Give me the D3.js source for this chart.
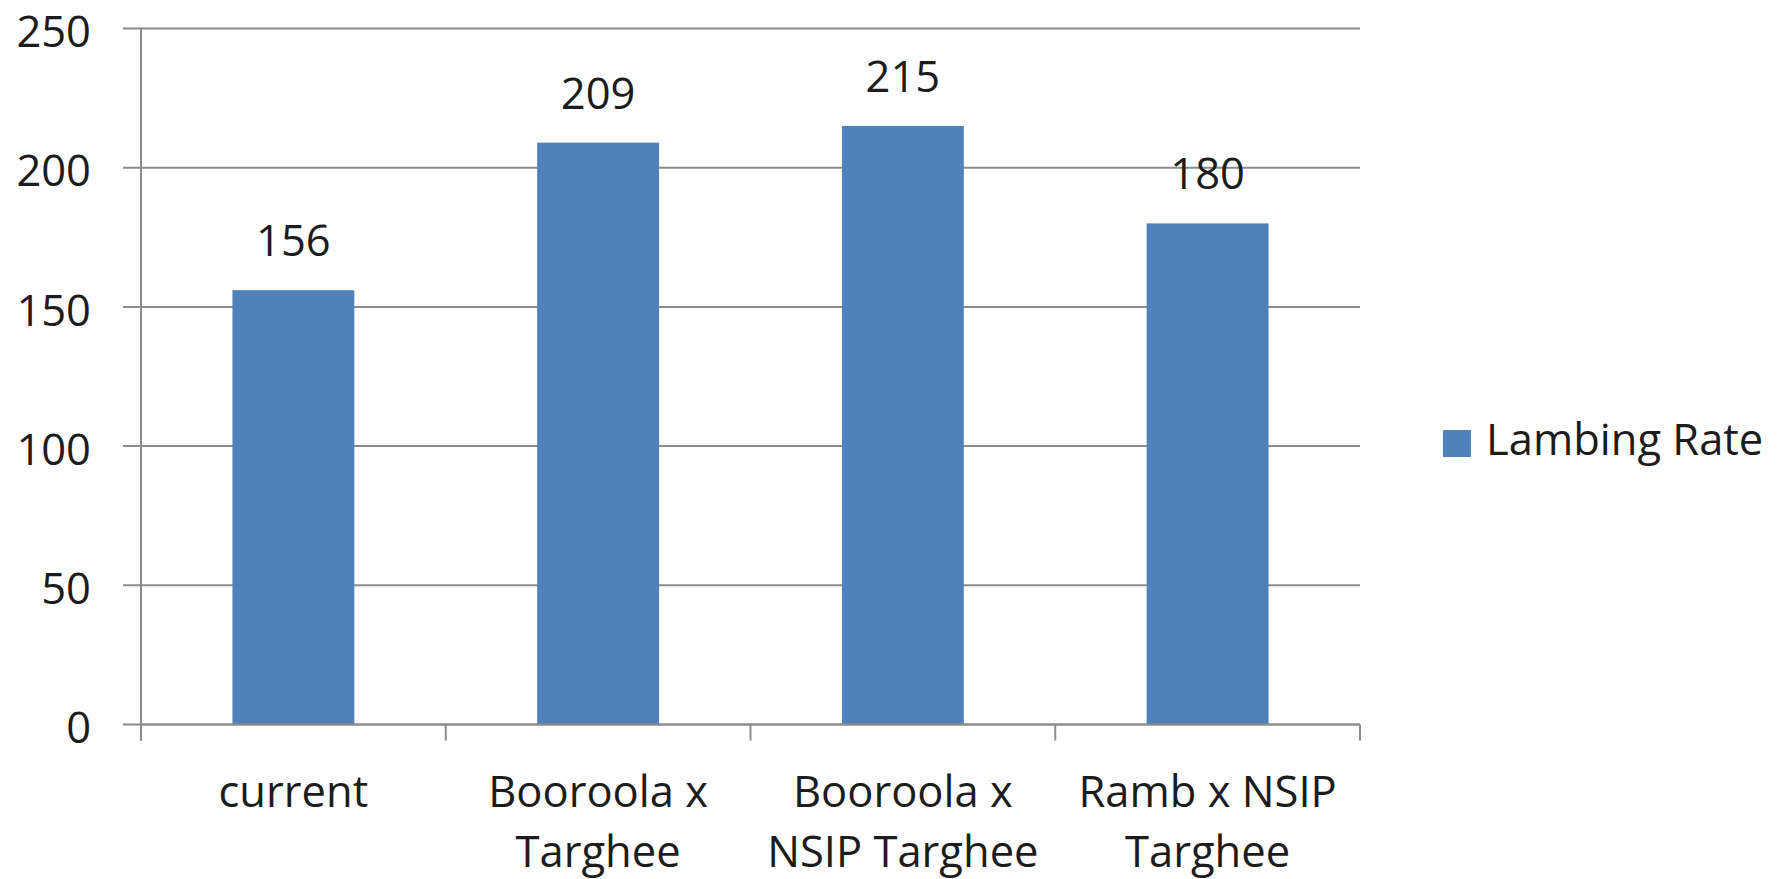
<!DOCTYPE html>
<html>
<head>
<meta charset="utf-8">
<script src="https://cdn.jsdelivr.net/npm/d3@7"></script>
<style>
  html, body { margin: 0; padding: 0; background: #fff; }
  svg { display: block; }
  text { font-family: "Open Sans", "Noto Sans", sans-serif; fill: #1c1c1c; }
</style>
</head>
<body>
<svg id="chart" width="1777" height="879"></svg>
<script>
// Lambing rate by breeding option
const categories = [["current"], ["Booroola x", "Targhee"], ["Booroola x", "NSIP Targhee"], ["Ramb x NSIP", "Targhee"]];
const lambingRate = [156, 209, 215, 180];
const yTicks = [0, 50, 100, 150, 200, 250];
const seriesName = "Lambing Rate";

const margin = { left: 141, right: 1360, top: 28.5, bottom: 724.5 };
const barColor = "#4F81BD";
const gridColor = "#8c8c8c";
const fontSize = 43.5;

const svg = d3.select("#chart");

const x = d3.scaleBand()
  .domain(d3.range(categories.length))
  .range([margin.left, margin.right])
  .paddingInner(0.6)
  .paddingOuter(0.3);

const y = d3.scaleLinear()
  .domain([0, 250])
  .range([margin.bottom, margin.top]);

// Horizontal gridlines, extending left past the axis as tick marks
svg.append("g").selectAll("line")
  .data(yTicks)
  .join("line")
  .attr("x1", margin.left - 18)
  .attr("x2", margin.right)
  .attr("y1", d => y(d))
  .attr("y2", d => y(d))
  .attr("stroke", gridColor)
  .attr("stroke-width", 2);

// Value axis line
svg.append("line")
  .attr("x1", margin.left).attr("x2", margin.left)
  .attr("y1", margin.top).attr("y2", margin.bottom + 16)
  .attr("stroke", gridColor).attr("stroke-width", 2);

// Category axis tick marks at band boundaries
const boundaries = d3.range(categories.length + 1).map(i => margin.left + i * (margin.right - margin.left) / categories.length);
svg.append("g").selectAll("line")
  .data(boundaries)
  .join("line")
  .attr("x1", d => d).attr("x2", d => d)
  .attr("y1", margin.bottom).attr("y2", margin.bottom + 16)
  .attr("stroke", gridColor).attr("stroke-width", 2);

// Y tick labels
svg.append("g").selectAll("text")
  .data(yTicks)
  .join("text")
  .attr("x", 91)
  .attr("y", d => y(d))
  .attr("dy", "0.43em")
  .attr("text-anchor", "end")
  .attr("font-size", fontSize)
  .text(d => d);

// Bars
svg.append("g").selectAll("rect")
  .data(lambingRate)
  .join("rect")
  .attr("x", (d, i) => x(i))
  .attr("width", x.bandwidth())
  .attr("y", d => y(d))
  .attr("height", d => y(0) - y(d))
  .attr("fill", barColor);

// Category axis line (over bar bottoms)
svg.append("line")
  .attr("x1", margin.left).attr("x2", margin.right)
  .attr("y1", margin.bottom).attr("y2", margin.bottom)
  .attr("stroke", gridColor).attr("stroke-width", 2);

// Data labels
svg.append("g").selectAll("text")
  .data(lambingRate)
  .join("text")
  .attr("x", (d, i) => x(i) + x.bandwidth() / 2)
  .attr("y", d => y(d) - 34)
  .attr("text-anchor", "middle")
  .attr("font-size", fontSize)
  .text(d => d);

// Category labels
const catG = svg.append("g").selectAll("text")
  .data(categories)
  .join("text")
  .attr("text-anchor", "middle")
  .attr("font-size", fontSize)
  .attr("x", (d, i) => x(i) + x.bandwidth() / 2)
  .attr("y", 806.5);
catG.selectAll("tspan")
  .data(d => d)
  .join("tspan")
  .attr("x", function () { return d3.select(this.parentNode).attr("x"); })
  .attr("dy", (d, i) => i === 0 ? 0 : 60)
  .text(d => d);

// Legend
const legend = svg.append("g");
legend.append("rect")
  .attr("x", 1443).attr("y", 430)
  .attr("width", 28).attr("height", 27)
  .attr("fill", barColor);
legend.append("text")
  .attr("x", 1486).attr("y", 455)
  .attr("font-size", fontSize)
  .text(seriesName);
</script>
</body>
</html>
